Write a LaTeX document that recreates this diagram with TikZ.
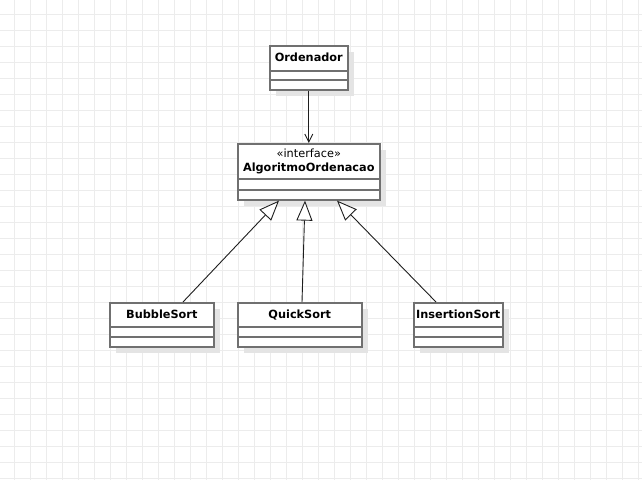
\documentclass[tikz,border=0pt]{standalone}
\usepackage{fontspec}
\setmainfont{DejaVu Sans}
\usetikzlibrary{arrows.meta,calc,shadows}
\definecolor{gridcol}{RGB}{236,236,236}
\definecolor{framecol}{RGB}{112,112,112}
\definecolor{shadowcol}{RGB}{228,228,228}
\definecolor{linkcol}{RGB}{30,30,30}

\begin{document}
\begin{tikzpicture}[x=1pt,y=-1pt,
  gridline/.style={draw=gridcol, line width=1pt},
  classbox/.style={draw=framecol, line width=1.6pt, fill=white, inner sep=0pt,
    anchor=north west,
    general shadow={fill=shadowcol, shadow xshift=6pt, shadow yshift=-6pt}},
  sepline/.style={draw=framecol, line width=1.6pt},
  classname/.style={font=\fontsize{11.3}{13}\selectfont\bfseries, inner sep=0pt, anchor=base},
  stereo/.style={font=\fontsize{11.3}{13}\selectfont, inner sep=0pt, anchor=base},
  depend/.style={draw=linkcol, line width=0.9pt, -{Straight Barb[length=8pt,width=8pt]}},
  realize/.style={draw=linkcol, line width=0.9pt, -{Triangle[open,length=20pt,width=16pt,fill=white]}}
]
\useasboundingbox (0,0) rectangle (642,480);
\fill[white] (0,0) rectangle (642,480);

% background grid
\foreach \i in {0,...,39} \draw[gridline] (14+16*\i,0) -- (14+16*\i,480);
\foreach \j in {0,...,29} \draw[gridline] (0,14+16*\j) -- (642,14+16*\j);

% class frames
\node[classbox, minimum width=78pt, minimum height=44pt] (ord) at (269,45) {};
\node[classbox, minimum width=142pt, minimum height=56pt] (itf) at (237,143) {};
\node[classbox, minimum width=104pt, minimum height=44pt] (bub) at (109,302) {};
\node[classbox, minimum width=124pt, minimum height=44pt] (qs) at (237,302) {};
\node[classbox, minimum width=89pt, minimum height=44pt] (ins) at (413,302) {};

% compartment separators
\foreach \c/\a/\b in {ord/26/35, itf/36/47, bub/25/35, qs/25/35, ins/25/35} {
  \draw[sepline] ($(\c.north west)+(0,\a)$) -- ($(\c.north east)+(0,\a)$);
  \draw[sepline] ($(\c.north west)+(0,\b)$) -- ($(\c.north east)+(0,\b)$);
}

% class names
\node[classname] (ordt) at ($(ord.north)+(0,16.5)$) {Ordenador};
\node[stereo] (itfs) at ($(itf.north)+(0,14)$) {«interface»};
\node[classname] (itft) at ($(itf.north)+(0,28.5)$) {AlgoritmoOrdenacao};
\node[classname] (bubt) at ($(bub.north)+(0,16)$) {BubbleSort};
\node[classname] (qst) at ($(qs.north)+(0,16)$) {QuickSort};
\node[classname] (inst) at ($(ins.north)+(0,16)$) {InsertionSort};

% relations
\draw[depend] (ord.south) -- (itf.north);
\draw[realize] ($(bub.north west)+(74,0)$) -- ($(itf.south west)+(42,0)$);
\draw[realize] ($(qs.north west)+(65,0)$) -- ($(itf.south west)+(68,0)$);
\draw[realize] ($(ins.north west)+(23,0)$) -- ($(itf.south west)+(100,0)$);
\end{tikzpicture}
\end{document}
